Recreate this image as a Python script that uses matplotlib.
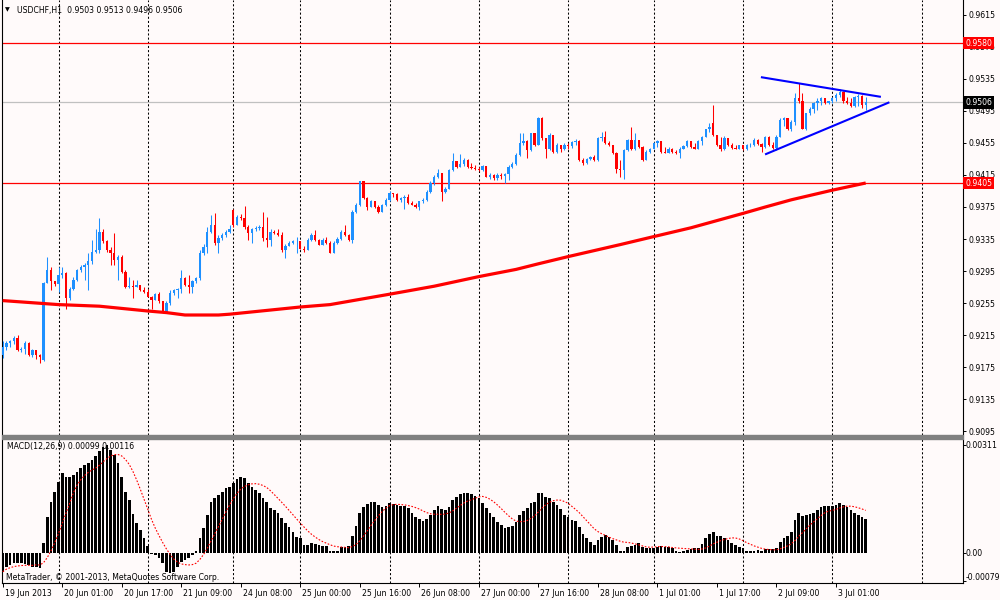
import matplotlib

matplotlib.use("Agg")
import matplotlib.pyplot as plt
import numpy as np
import pandas as pd
from matplotlib.patches import Rectangle
from matplotlib.transforms import ScaledTranslation

# ------------------------------------------------------------
# USDCHF H1 candles (bar 0 = 19 Jun 2013 09:00)
# ------------------------------------------------------------
first_open = 0.9190
gap_opens = {11: 0.9184, 62: 0.9371, 191: 0.9480}

closes = [
    0.9200, 0.9205, 0.9207, 0.9211, 0.9196, 0.9198, 0.9205, 0.9190, 0.9196, 0.9190,
    0.9188, 0.9280, 0.9296, 0.9282, 0.9279, 0.9290, 0.9293, 0.9261, 0.9273, 0.9284,
    0.9296, 0.9300, 0.9303, 0.9307, 0.9319, 0.9321, 0.9344, 0.9332, 0.9321, 0.9317,
    0.9309, 0.9313, 0.9294, 0.9275, 0.9276, 0.9275, 0.9278, 0.9271, 0.9269, 0.9263,
    0.9259, 0.9266, 0.9257, 0.9244, 0.9255, 0.9267, 0.9271, 0.9272, 0.9286, 0.9277,
    0.9275, 0.9282, 0.9286, 0.9317, 0.9325, 0.9344, 0.9352, 0.9330, 0.9336, 0.9340,
    0.9344, 0.9348, 0.9352, 0.9363, 0.9361, 0.9350, 0.9342, 0.9347, 0.9349, 0.9350,
    0.9336, 0.9334, 0.9344, 0.9343, 0.9340, 0.9321, 0.9326, 0.9330, 0.9332, 0.9333,
    0.9323, 0.9321, 0.9334, 0.9340, 0.9334, 0.9328, 0.9334, 0.9330, 0.9318, 0.9330,
    0.9335, 0.9344, 0.9340, 0.9334, 0.9369, 0.9378, 0.9407, 0.9386, 0.9375, 0.9382,
    0.9375, 0.9369, 0.9378, 0.9384, 0.9392, 0.9391, 0.9384, 0.9386, 0.9388, 0.9380,
    0.9378, 0.9375, 0.9382, 0.9384, 0.9394, 0.9405, 0.9413, 0.9417, 0.9394, 0.9398,
    0.9421, 0.9432, 0.9425, 0.9429, 0.9434, 0.9425, 0.9424, 0.9423, 0.9421, 0.9426,
    0.9413, 0.9415, 0.9411, 0.9415, 0.9414, 0.9416, 0.9425, 0.9429, 0.9440, 0.9455,
    0.9457, 0.9446, 0.9467, 0.9453, 0.9486, 0.9461, 0.9448, 0.9465, 0.9444, 0.9452,
    0.9448, 0.9453, 0.9451, 0.9456, 0.9457, 0.9434, 0.9430, 0.9435, 0.9438, 0.9434,
    0.9461, 0.9463, 0.9455, 0.9452, 0.9442, 0.9423, 0.9421, 0.9446, 0.9459, 0.9447,
    0.9459, 0.9450, 0.9434, 0.9444, 0.9448, 0.9455, 0.9457, 0.9444, 0.9443, 0.9448,
    0.9444, 0.9442, 0.9448, 0.9451, 0.9457, 0.9450, 0.9448, 0.9457, 0.9463, 0.9472,
    0.9475, 0.9465, 0.9452, 0.9447, 0.9461, 0.9452, 0.9449, 0.9448, 0.9452, 0.9447,
    0.9452, 0.9453, 0.9459, 0.9454, 0.9450, 0.9462, 0.9453, 0.9449, 0.9463, 0.9484,
    0.9486, 0.9473, 0.9481, 0.9511, 0.9507, 0.9473, 0.9492, 0.9498, 0.9505, 0.9507,
    0.9511, 0.9505, 0.9507, 0.9511, 0.9515, 0.9519, 0.9507, 0.9505, 0.9501, 0.9512,
    0.9514, 0.9503, 0.9506,
]

highs = [
    0.9207, 0.9207, 0.9209, 0.9214, 0.9215, 0.9200, 0.9207, 0.9206, 0.9198, 0.9194,
    0.9191, 0.9281, 0.9313, 0.9300, 0.9283, 0.9300, 0.9300, 0.9294, 0.9275, 0.9288,
    0.9298, 0.9302, 0.9305, 0.9317, 0.9334, 0.9348, 0.9361, 0.9348, 0.9334, 0.9325,
    0.9342, 0.9315, 0.9315, 0.9296, 0.9288, 0.9284, 0.9284, 0.9278, 0.9275, 0.9273,
    0.9264, 0.9268, 0.9269, 0.9258, 0.9258, 0.9271, 0.9273, 0.9274, 0.9296, 0.9287,
    0.9290, 0.9284, 0.9288, 0.9321, 0.9329, 0.9350, 0.9365, 0.9367, 0.9340, 0.9342,
    0.9346, 0.9352, 0.9372, 0.9365, 0.9366, 0.9376, 0.9352, 0.9349, 0.9351, 0.9352,
    0.9369, 0.9363, 0.9348, 0.9346, 0.9347, 0.9344, 0.9329, 0.9332, 0.9334, 0.9338,
    0.9333, 0.9326, 0.9336, 0.9342, 0.9346, 0.9335, 0.9336, 0.9338, 0.9333, 0.9332,
    0.9338, 0.9346, 0.9352, 0.9341, 0.9371, 0.9380, 0.9407, 0.9407, 0.9388, 0.9384,
    0.9383, 0.9377, 0.9379, 0.9386, 0.9395, 0.9393, 0.9392, 0.9388, 0.9390, 0.9391,
    0.9383, 0.9380, 0.9383, 0.9386, 0.9396, 0.9408, 0.9415, 0.9423, 0.9418, 0.9400,
    0.9423, 0.9442, 0.9432, 0.9441, 0.9436, 0.9435, 0.9430, 0.9427, 0.9425, 0.9427,
    0.9422, 0.9417, 0.9416, 0.9417, 0.9418, 0.9418, 0.9427, 0.9431, 0.9443, 0.9467,
    0.9467, 0.9459, 0.9468, 0.9463, 0.9488, 0.9488, 0.9461, 0.9467, 0.9465, 0.9455,
    0.9453, 0.9455, 0.9455, 0.9458, 0.9460, 0.9459, 0.9436, 0.9436, 0.9439, 0.9440,
    0.9462, 0.9469, 0.9470, 0.9457, 0.9453, 0.9444, 0.9434, 0.9447, 0.9460, 0.9475,
    0.9467, 0.9459, 0.9451, 0.9446, 0.9449, 0.9456, 0.9459, 0.9457, 0.9450, 0.9450,
    0.9449, 0.9446, 0.9450, 0.9452, 0.9459, 0.9458, 0.9455, 0.9459, 0.9464, 0.9473,
    0.9480, 0.9503, 0.9465, 0.9462, 0.9464, 0.9459, 0.9455, 0.9452, 0.9453, 0.9453,
    0.9454, 0.9455, 0.9461, 0.9460, 0.9455, 0.9464, 0.9464, 0.9456, 0.9465, 0.9486,
    0.9488, 0.9477, 0.9484, 0.9517, 0.9530, 0.9517, 0.9493, 0.9500, 0.9506, 0.9511,
    0.9512, 0.9510, 0.9508, 0.9512, 0.9517, 0.9522, 0.9520, 0.9513, 0.9511, 0.9514,
    0.9516, 0.9515, 0.9513,
]

lows = [
    0.9186, 0.9196, 0.9200, 0.9204, 0.9195, 0.9194, 0.9191, 0.9189, 0.9188, 0.9185,
    0.9180, 0.9183, 0.9288, 0.9271, 0.9276, 0.9269, 0.9286, 0.9248, 0.9259, 0.9271,
    0.9282, 0.9294, 0.9284, 0.9271, 0.9304, 0.9317, 0.9318, 0.9330, 0.9319, 0.9303,
    0.9303, 0.9284, 0.9293, 0.9274, 0.9274, 0.9261, 0.9275, 0.9270, 0.9268, 0.9262,
    0.9248, 0.9259, 0.9255, 0.9242, 0.9243, 0.9253, 0.9265, 0.9261, 0.9267, 0.9276,
    0.9267, 0.9268, 0.9280, 0.9284, 0.9315, 0.9317, 0.9342, 0.9328, 0.9317, 0.9334,
    0.9337, 0.9342, 0.9350, 0.9354, 0.9359, 0.9348, 0.9334, 0.9330, 0.9345, 0.9346,
    0.9332, 0.9325, 0.9326, 0.9341, 0.9339, 0.9319, 0.9311, 0.9326, 0.9329, 0.9317,
    0.9322, 0.9319, 0.9321, 0.9333, 0.9333, 0.9327, 0.9327, 0.9329, 0.9317, 0.9318,
    0.9329, 0.9334, 0.9339, 0.9332, 0.9330, 0.9368, 0.9376, 0.9385, 0.9371, 0.9376,
    0.9374, 0.9368, 0.9369, 0.9376, 0.9383, 0.9388, 0.9383, 0.9381, 0.9373, 0.9379,
    0.9377, 0.9374, 0.9371, 0.9380, 0.9382, 0.9393, 0.9403, 0.9411, 0.9382, 0.9392,
    0.9397, 0.9420, 0.9424, 0.9425, 0.9426, 0.9424, 0.9423, 0.9421, 0.9420, 0.9420,
    0.9412, 0.9410, 0.9409, 0.9409, 0.9410, 0.9405, 0.9409, 0.9424, 0.9427, 0.9439,
    0.9453, 0.9436, 0.9445, 0.9451, 0.9452, 0.9459, 0.9436, 0.9446, 0.9443, 0.9443,
    0.9444, 0.9446, 0.9448, 0.9449, 0.9453, 0.9433, 0.9428, 0.9429, 0.9434, 0.9433,
    0.9433, 0.9458, 0.9454, 0.9451, 0.9441, 0.9417, 0.9413, 0.9410, 0.9445, 0.9446,
    0.9446, 0.9449, 0.9433, 0.9434, 0.9442, 0.9447, 0.9450, 0.9443, 0.9442, 0.9442,
    0.9443, 0.9441, 0.9436, 0.9447, 0.9450, 0.9449, 0.9447, 0.9447, 0.9453, 0.9462,
    0.9469, 0.9464, 0.9451, 0.9445, 0.9446, 0.9451, 0.9448, 0.9447, 0.9447, 0.9446,
    0.9446, 0.9450, 0.9451, 0.9453, 0.9444, 0.9449, 0.9451, 0.9447, 0.9446, 0.9462,
    0.9476, 0.9471, 0.9470, 0.9478, 0.9505, 0.9472, 0.9471, 0.9490, 0.9492, 0.9496,
    0.9503, 0.9504, 0.9504, 0.9505, 0.9507, 0.9513, 0.9505, 0.9504, 0.9500, 0.9500,
    0.9501, 0.9499, 0.9496,
]

# MACD(12,26,9) main line, in 1e-5 units
macd_e5 = [
    -53, -38, -33, -29, -29, -29, -31, -33, -38, -38,
    -43, 31, 103, 148, 177, 206, 230, 220, 220, 225,
    234, 244, 254, 258, 268, 279, 295, 306, 311, 297,
    282, 258, 220, 177, 153, 113, 86, 67, 43, 21,
    -2, -5, -14, -29, -53, -57, -53, -38, -24, -19,
    -14, -5, 8, 43, 72, 110, 148, 158, 167, 177,
    187, 191, 201, 212, 220, 215, 201, 191, 182, 172,
    158, 148, 129, 124, 115, 100, 88, 75, 62, 48,
    43, 24, 24, 29, 27, 24, 22, 20, 8, 8,
    8, 17, 19, 21, 50, 77, 115, 132, 141, 146,
    146, 139, 134, 136, 144, 141, 139, 136, 136, 129,
    117, 103, 99, 94, 98, 110, 124, 136, 126, 123,
    134, 153, 163, 170, 174, 172, 170, 165, 158, 145,
    129, 115, 103, 91, 81, 72, 75, 77, 91, 110,
    122, 129, 145, 148, 174, 174, 161, 158, 148, 139,
    126, 110, 103, 96, 94, 75, 56, 43, 33, 24,
    38, 48, 53, 46, 38, 24, 8, 8, 19, 21,
    24, 31, 17, 14, 14, 14, 19, 21, 19, 17,
    14, 8, 5, 8, 10, 11, 14, 14, 27, 43,
    56, 61, 50, 50, 43, 38, 31, 24, 17, 14,
    8, 8, 8, 10, 8, 11, 13, 11, 14, 33,
    43, 50, 62, 96, 117, 107, 110, 112, 115, 124,
    132, 136, 136, 136, 139, 144, 139, 132, 124, 117,
    110, 105, 99,
]

# red moving average, sampled along the curve
ma_bars = [0, 15, 26, 39, 44, 49, 58, 61, 80, 88, 104, 116, 128, 138, 144,
           152, 166, 175, 185, 192, 199, 205, 212, 223, 232]
ma_vals = [0.9258, 0.9253, 0.9251, 0.9245, 0.9243, 0.9240, 0.9240, 0.9241,
           0.9250, 0.9253, 0.9266, 0.9276, 0.9288, 0.9297, 0.9304, 0.9313,
           0.9328, 0.9338, 0.9349, 0.9358, 0.9367, 0.9375, 0.9384, 0.9396,
           0.9405]

# triangle trendlines (bar index, price)
trend_upper = [(204.1, 0.95371), (235.8, 0.95129)]
trend_lower = [(205.2, 0.94412), (238.1, 0.95054)]

# horizontal levels
level_high = 0.9580
level_low = 0.9405
last_price = 0.9506

grid_bars = [15, 39, 62, 80, 104, 128, 152, 175, 199, 223, 247]
time_ticks = list(range(0, 225, 16))
time_labels = ["19 Jun 2013", "20 Jun 01:00", "20 Jun 17:00", "21 Jun 09:00",
               "24 Jun 08:00", "25 Jun 00:00", "25 Jun 16:00", "26 Jun 08:00",
               "27 Jun 00:00", "27 Jun 16:00", "28 Jun 08:00", "1 Jul 01:00",
               "1 Jul 17:00", "2 Jul 09:00", "3 Jul 01:00"]
price_ticks = [0.9095, 0.9135, 0.9175, 0.9215, 0.9255, 0.9295, 0.9335, 0.9375,
               0.9415, 0.9455, 0.9495, 0.9535, 0.9575, 0.9615]
macd_ticks = [-0.00079, 0.0, 0.00311]
macd_tick_labels = ["-0.00079", "0.00", "0.00311"]

# ------------------------------------------------------------
W, H = 1000, 600
BG = "#FFFAFA"
BLUE = "#1E90FF"
RED = "#FF0000"
FS = 5.6
plt.rcParams["font.family"] = ["DejaVu Sans"]


def px_rect(x0, y0, x1, y1):
    return [x0 / W, 1 - y1 / H, (x1 - x0) / W, (y1 - y0) / H]


def fx(x):
    return x / W


def fy(y):
    return 1 - y / H


fig = plt.figure(figsize=(W / 100, H / 100), dpi=100, facecolor=BG)
ax = fig.add_axes(px_rect(2, 0, 963, 435), facecolor=BG)
axm = fig.add_axes(px_rect(2, 439, 963, 583), facecolor=BG, sharex=ax)

closes = np.array(closes)
highs = np.array(highs)
lows = np.array(lows)
n = len(closes)
idx = np.arange(n)
opens = np.r_[first_open, closes[:-1]]
for i, o in gap_opens.items():
    opens[i] = o
up = closes >= opens
colors = np.where(up, BLUE, RED)
top = np.maximum(opens, closes)
bot = np.minimum(opens, closes)

# grid
for g in grid_bars:
    for a in (ax, axm):
        a.axvline(g, color="black", lw=0.75, ls=(0, (2, 2)), zorder=1)

# levels
ax.axhline(level_high, color=RED, lw=0.9, zorder=2)
ax.axhline(level_low, color=RED, lw=0.9, zorder=2)
ax.axhline(last_price, color="#C0C0C0", lw=0.9, zorder=2)

# candles
ax.vlines(idx, np.minimum(lows, bot), np.maximum(highs, top), colors=colors,
          lw=0.75, zorder=3)
ax.bar(idx, np.maximum(top - bot, 0.00008), bottom=bot, width=0.62,
       color=colors, linewidth=0, zorder=4)

# moving average and trendlines
ax.plot(ma_bars, ma_vals, color=RED, lw=2.3, solid_joinstyle="round",
        solid_capstyle="butt", zorder=5)
for tl in (trend_upper, trend_lower):
    xs, ys = zip(*tl)
    ax.plot(xs, ys, color="#0000FF", lw=1.5, zorder=5)

# MACD
macd = np.array(macd_e5) * 1e-5
signal = pd.Series(macd).rolling(9, min_periods=1).mean()
axm.bar(idx, macd, width=0.72, color="black", linewidth=0, zorder=3)
axm.plot(idx, signal, color=RED, lw=0.8, ls=(0, (1.5, 1.5)), zorder=4)

# limits / axes
ax.set_xlim(-0.19, 258.15)
ax.set_ylim(0.9615 - 420 / 8000, 0.9615 + 15 / 8000)
axm.set_ylim(-(583 - 553.3) / 34820, (553.3 - 439) / 34820)

for a in (ax, axm):
    for s in a.spines.values():
        s.set_linewidth(0.8)
        s.set_color("black")
    a.spines["top"].set_visible(False)
    a.yaxis.tick_right()
    a.tick_params(axis="y", direction="out", length=2.5, width=0.7,
                  labelsize=FS, pad=1.5, colors="black")
ax.spines["bottom"].set_visible(False)
ax.tick_params(axis="x", bottom=False, labelbottom=False)

ax.set_yticks(price_ticks)
ax.set_yticklabels([f"{p:.4f}" for p in price_ticks])
axm.set_yticks(macd_ticks)
axm.set_yticklabels([])
for y, lab in zip((577, 553.3, 445), macd_tick_labels):
    fig.text(fx(966), fy(y), lab, fontsize=FS, va="center", ha="left")

axm.set_xticks(time_ticks)
axm.set_xticklabels(time_labels)
axm.tick_params(axis="x", direction="out", length=3, width=0.7,
                labelsize=FS, pad=1.5)
shift = ScaledTranslation(2 / 100, 0, fig.dpi_scale_trans)
for lbl in axm.get_xticklabels():
    lbl.set_horizontalalignment("left")
    lbl.set_transform(lbl.get_transform() + shift)

# separator bar between panels
fig.patches.append(Rectangle((fx(2), fy(439)), 961 / W, 4.5 / H,
                             transform=fig.transFigure, color="#808080",
                             zorder=10))

# price boxes on the axis
for val, fc in ((level_high, RED), (last_price, "black"), (level_low, RED)):
    y = 15 + (0.9615 - val) * 8000
    fig.text(fx(965), fy(y), f"{val:.4f}", fontsize=FS, color="white",
             va="center", ha="left", zorder=20,
             bbox=dict(boxstyle="square,pad=0.25", fc=fc, ec="none"))

# texts
fig.text(fx(5), fy(10), "\u25bc", fontsize=4.5, va="center", ha="left")
fig.text(fx(17), fy(10), "USDCHF,H1  0.9503 0.9513 0.9496 0.9506",
         fontsize=FS, va="center", ha="left")
fig.text(fx(7), fy(446), "MACD(12,26,9) 0.00099 0.00116", fontsize=FS,
         va="center", ha="left", zorder=20)
fig.text(fx(6), fy(577), "MetaTrader, \u00a9 2001-2013, MetaQuotes Software Corp.",
         fontsize=FS, va="center", ha="left", zorder=20)

fig.savefig("out.png", dpi=100, facecolor=BG)
